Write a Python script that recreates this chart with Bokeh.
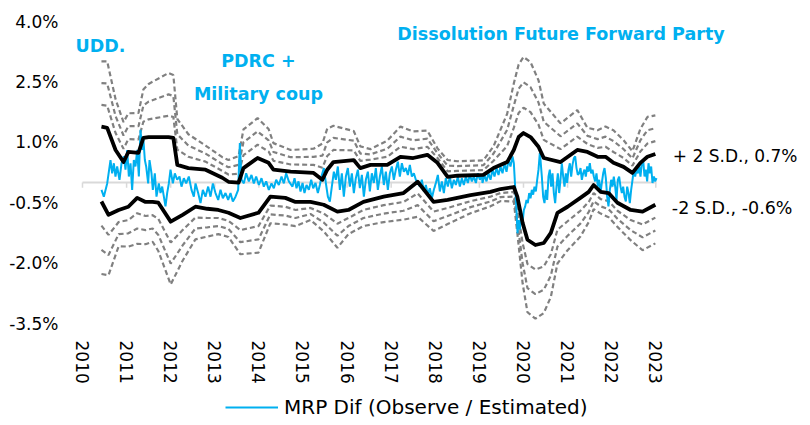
import numpy as np
from bokeh.plotting import figure
from bokeh.models import (Range1d, FixedTicker, PrintfTickFormatter, Label, Legend, LegendItem,
                          LinearAxis)
from bokeh.embed import file_html
from bokeh.resources import INLINE

FONT = "DejaVu Sans"
BLUE = "#00B0F0"
GREY = "#808080"

year_ticks = [2010, 2011, 2012, 2013, 2014, 2015, 2016, 2017, 2018, 2019, 2020, 2021, 2022, 2023]
pct_ticks = [-3.5, -2.0, -0.5, 1.0, 2.5, 4.0]

# MRP Dif (Observe / Estimated), % -- date as decimal year
mrp_t = [
    2010.431, 2010.484, 2010.560, 2010.635, 2010.673, 2010.711, 2010.748, 2010.786, 2010.839, 2010.885,
    2010.937, 2010.975, 2011.013, 2011.051, 2011.089, 2011.126, 2011.164, 2011.202, 2011.240, 2011.278,
    2011.315, 2011.353, 2011.376, 2011.414, 2011.444, 2011.489, 2011.520, 2011.565, 2011.595, 2011.640,
    2011.678, 2011.731, 2011.769, 2011.807, 2011.845, 2011.882, 2011.920, 2011.958, 2011.996, 2012.049,
    2012.094, 2012.147, 2012.200, 2012.245, 2012.298, 2012.351, 2012.411, 2012.472, 2012.525, 2012.563,
    2012.623, 2012.676, 2012.729, 2012.789, 2012.850, 2012.903, 2012.956, 2013.016, 2013.077, 2013.130,
    2013.183, 2013.243, 2013.303, 2013.356, 2013.409, 2013.470, 2013.530, 2013.568, 2013.606, 2013.659,
    2013.711, 2013.772, 2013.832, 2013.885, 2013.938, 2013.999, 2014.059, 2014.112, 2014.165, 2014.225,
    2014.286, 2014.339, 2014.392, 2014.452, 2014.513, 2014.566, 2014.618, 2014.679,
    2014.762, 2014.808, 2014.853, 2014.898, 2014.944, 2014.989, 2015.034, 2015.080, 2015.133, 2015.186,
    2015.231, 2015.284, 2015.337, 2015.382, 2015.428, 2015.473, 2015.518, 2015.564, 2015.609, 2015.654,
    2015.700, 2015.745, 2015.790, 2015.836, 2015.881, 2015.926, 2015.972, 2016.017, 2016.062, 2016.108,
    2016.153, 2016.198, 2016.244, 2016.289, 2016.335, 2016.380, 2016.425, 2016.471, 2016.516, 2016.561,
    2016.607, 2016.652, 2016.697, 2016.743, 2016.788, 2016.833, 2016.879, 2016.924, 2016.969, 2017.015,
    2017.060, 2017.105, 2017.151, 2017.196, 2017.242, 2017.287, 2017.332, 2017.378, 2017.423, 2017.468,
    2017.514, 2017.559, 2017.604, 2017.650, 2017.695, 2017.740, 2017.786, 2017.831, 2017.876, 2017.922,
    2017.967, 2018.013, 2018.058, 2018.103, 2018.149, 2018.194, 2018.239, 2018.285, 2018.330, 2018.375,
    2018.421, 2018.466, 2018.511, 2018.557, 2018.602, 2018.647, 2018.693, 2018.738, 2018.784, 2018.829,
    2018.874, 2018.920, 2018.965, 2019.010, 2019.056,
    2019.070, 2019.116, 2019.161, 2019.206, 2019.252, 2019.297, 2019.342, 2019.388, 2019.433, 2019.479,
    2019.524, 2019.569, 2019.615, 2019.660, 2019.705, 2019.751, 2019.781, 2019.811, 2019.841, 2019.864,
    2019.887, 2019.917, 2019.947, 2019.977, 2020.008, 2020.038, 2020.068, 2020.098, 2020.129, 2020.159,
    2020.189, 2020.219, 2020.249, 2020.280, 2020.310, 2020.340, 2020.370, 2020.386, 2020.416, 2020.446,
    2020.476, 2020.506, 2020.537, 2020.567, 2020.597, 2020.627, 2020.658, 2020.688, 2020.718, 2020.748,
    2020.779, 2020.809, 2020.839, 2020.869, 2020.900, 2020.930, 2020.960, 2020.990, 2021.020, 2021.051,
    2021.081, 2021.111, 2021.141, 2021.172, 2021.202, 2021.232, 2021.262, 2021.293, 2021.323, 2021.353,
    2021.383, 2021.413, 2021.444, 2021.474, 2021.504, 2021.534, 2021.565, 2021.595, 2021.625, 2021.655,
    2021.686, 2021.716, 2021.746, 2021.776, 2021.807, 2021.837, 2021.867, 2021.897, 2021.927, 2021.958,
    2021.988, 2022.018, 2022.048, 2022.079, 2022.109, 2022.139, 2022.169, 2022.200, 2022.230, 2022.260,
    2022.290, 2022.321, 2022.351, 2022.381, 2022.411, 2022.441, 2022.472, 2022.502, 2022.532, 2022.562,
    2022.593, 2022.623, 2022.653, 2022.683, 2022.714, 2022.744, 2022.774, 2022.804, 2022.835, 2022.865,
    2022.895, 2022.925, 2022.956, 2022.986, 2023.016,
]
mrp_v = [
    -0.18, -0.35, -0.02, 0.56, 0.23, 0.48, 0.15, 0.40, 0.07, 0.48,
    0.65, 0.32, 0.81, 0.15, 0.48, -0.18, 0.56, 0.40, 0.81, 0.15,
    1.31, 0.81, 1.14, 0.56, 0.40, -0.02, 0.56, 0.23, -0.18, 0.23,
    -0.35, -0.02, -0.26, -0.10, -0.35, -0.59, -0.26, -0.02, 0.32, -0.02,
    0.23, 0.07, 0.15, -0.10, 0.11, -0.02, 0.15, -0.18, -0.35, -0.02,
    -0.26, -0.51, -0.18, -0.35, -0.10, -0.35, -0.02, -0.26, -0.43, -0.18,
    -0.39, -0.26, -0.43, -0.26, -0.47, -0.35, -0.18, 0.98, 0.07, -0.02,
    0.23, 0.03, 0.19, -0.02, 0.15, -0.06, 0.11, -0.10, 0.03, -0.18,
    -0.02, -0.14, 0.07, -0.06, 0.15, -0.02, 0.23, 0.03,
    -0.10, 0.11, -0.14, 0.03, -0.22, -0.01, -0.26, -0.06, -0.18, 0.07,
    -0.14, -0.01, -0.26, -0.06, 0.19, 0.36, -0.01, -0.35, -0.47, -0.10,
    0.27, 0.07, 0.40, -0.18, 0.23, -0.35, 0.15, 0.36, -0.10, 0.23,
    -0.26, 0.11, 0.32, -0.14, 0.19, -0.35, 0.07, 0.27, -0.22, 0.23,
    -0.01, 0.36, -0.18, 0.15, 0.40, -0.06, 0.27, -0.18, 0.23, 0.40,
    0.07, 0.32, 0.52, 0.15, 0.48, 0.27, 0.36, 0.19, 0.44, 0.15,
    0.23, 0.07, -0.01, -0.10, 0.07, -0.22, -0.06, -0.30, -0.14, -0.39,
    -0.18, -0.01, 0.19, -0.22, 0.03, -0.26, 0.11, -0.10, 0.15, -0.14,
    0.07, -0.06, 0.15, -0.10, 0.11, -0.06, 0.15, -0.01, 0.19, 0.03,
    0.15, -0.01, 0.23, 0.07, 0.19,
    -0.01, 0.19, 0.03, 0.23, 0.07, 0.32, 0.15, 0.36, 0.19, 0.40,
    0.23, 0.48, 0.27, 0.56, 0.40, 0.65, 0.48, -0.10, -0.68, -1.26,
    -0.93, -1.17, -0.76, -1.01, -0.68, -0.59, -0.43, -0.51, -0.26, -0.39,
    -0.18, -0.30, -0.10, -0.22, 0.07, 0.32, 0.73, 0.56, 0.15, -0.35,
    -0.51, -0.18, -0.43, 0.15, 0.32, -0.10, 0.23, -0.26, -0.51, -0.10,
    0.23, -0.26, 0.07, 0.48, 0.15, -0.10, 0.23, -0.01, 0.32, 0.48,
    0.15, 0.44, 0.60, 0.65, 0.36, 0.19, 0.23, 0.36, 0.07, 0.23,
    0.32, 0.15, 0.40, 0.27, 0.48, 0.23, 0.32, 0.15, 0.03, 0.23,
    -0.10, 0.07, -0.26, -0.01, 0.23, 0.36, 0.11, -0.35, -0.59, -0.18,
    0.07, -0.10, 0.15, -0.10, -0.43, 0.07, 0.15, -0.10, -0.26, -0.10,
    -0.35, -0.47, -0.10, -0.26, -0.51, -0.18, 0.07, 0.32, 0.15, 0.32,
    0.23, 0.40, 0.15, 0.48, 0.56, 0.15, 0.32, 0.03, 0.48, 0.23,
    0.40, -0.01, 0.15, 0.03, 0.11,
]

# +2 S.D. band (solid black) and spacing of the further S.D. bands (grey dashed)
upper_t = [2010.43, 2010.56, 2010.75, 2010.93, 2011.04, 2011.27, 2011.38, 2011.50, 2011.95, 2012.06,
           2012.15, 2012.40, 2012.79, 2013.17, 2013.31, 2013.54, 2013.65, 2013.97, 2014.22, 2014.33,
           2014.72, 2015.24, 2015.44, 2015.55, 2015.69, 2016.15, 2016.30, 2016.53, 2016.91, 2017.21,
           2017.50, 2017.82, 2018.05, 2018.28, 2018.50, 2019.09, 2019.32, 2019.63, 2019.78, 2019.89,
           2020.00, 2020.16, 2020.34, 2020.46, 2020.84, 2021.22, 2021.45, 2021.68, 2021.86, 2022.04,
           2022.27, 2022.47, 2022.65, 2022.81, 2022.99]
upper_v = [1.39, 1.36, 0.81, 0.51, 0.76, 0.74, 1.11, 1.13, 1.13, 1.11,
           0.44, 0.36, 0.32, 0.12, 0.02, 0.00, 0.36, 0.61, 0.49, 0.32,
           0.27, 0.24, 0.07, 0.32, 0.51, 0.56, 0.36, 0.44, 0.44, 0.64,
           0.61, 0.69, 0.49, 0.14, 0.17, 0.19, 0.36, 0.51, 0.81, 1.13,
           1.23, 1.13, 0.89, 0.61, 0.51, 0.81, 0.76, 0.64, 0.64, 0.49,
           0.39, 0.24, 0.49, 0.64, 0.71]
upper_step = [0.54, 0.55, 0.42, 0.33, 0.32, 0.33, 0.40, 0.44, 0.53, 0.52,
              0.38, 0.28, 0.20, 0.17, 0.18, 0.22, 0.32, 0.33, 0.28, 0.22,
              0.18, 0.20, 0.30, 0.34, 0.30, 0.24, 0.18, 0.13, 0.20, 0.25,
              0.22, 0.20, 0.12, 0.14, 0.12, 0.12, 0.18, 0.40, 0.55, 0.60,
              0.63, 0.62, 0.55, 0.45, 0.32, 0.33, 0.20, 0.22, 0.25, 0.27,
              0.22, 0.18, 0.28, 0.33, 0.32]

# -2 S.D. band (solid black) and spacing of the further S.D. bands (grey dashed)
lower_t = [2010.43, 2010.59, 2010.82, 2011.04, 2011.24, 2011.43, 2011.59, 2011.72, 2012.00, 2012.27,
           2012.56, 2012.83, 2013.08, 2013.31, 2013.58, 2013.99, 2014.26, 2014.60, 2014.83, 2015.17,
           2015.47, 2015.78, 2016.03, 2016.37, 2016.83, 2017.28, 2017.60, 2017.96, 2018.28, 2018.80,
           2019.25, 2019.48, 2019.78, 2019.86, 2019.98, 2020.09, 2020.27, 2020.46, 2020.62, 2020.77,
           2021.00, 2021.29, 2021.48, 2021.59, 2021.75, 2021.93, 2022.13, 2022.43, 2022.70, 2022.99]
lower_v = [-0.47, -0.80, -0.68, -0.60, -0.38, -0.48, -0.48, -0.50, -0.97, -0.80,
           -0.60, -0.65, -0.68, -0.75, -0.88, -0.75, -0.35, -0.38, -0.48, -0.48,
           -0.55, -0.72, -0.68, -0.48, -0.35, -0.26, 0.02, -0.48, -0.43, -0.31,
           -0.23, -0.16, -0.11, -0.35, -1.00, -1.42, -1.55, -1.50, -1.25, -0.75,
           -0.60, -0.38, -0.23, -0.06, -0.23, -0.26, -0.50, -0.68, -0.72, -0.55]
lower_step = [0.60, 0.50, 0.30, 0.33, 0.38, 0.35, 0.33, 0.40, 0.52, 0.38,
              0.27, 0.23, 0.20, 0.20, 0.30, 0.33, 0.22, 0.22, 0.20, 0.15,
              0.22, 0.30, 0.20, 0.20, 0.21, 0.22, 0.29, 0.24, 0.20, 0.15,
              0.12, 0.10, 0.12, 0.30, 0.50, 0.60, 0.61, 0.58, 0.53, 0.42,
              0.36, 0.32, 0.25, 0.20, 0.18, 0.20, 0.20, 0.25, 0.32, 0.32]

event_text = ["UDD.", "PDRC +", "Military coup", "Dissolution Future Forward Party"]
band_text = ["+ 2 S.D., 0.7%", "-2 S.D., -0.6%"]
legend_text = "MRP Dif (Observe / Estimated)"

# frame runs to the bottom of the page so the legend can sit inside it;
# the date axis is pinned at the lowest percent tick
p = figure(frame_width=746, frame_height=404, x_axis_location=None,
           min_border_left=64, min_border_right=0, min_border_top=21, min_border_bottom=0,
           x_range=Range1d(2009.592, 2026.508), y_range=Range1d(-6.032, 4.0),
           output_backend="svg", toolbar_location=None)
p.outline_line_color = None
p.grid.visible = False

# further S.D. bands (dashed grey)
ua, us = np.array(upper_v), np.array(upper_step)
la, ls = np.array(lower_v), np.array(lower_step)
for k in (1, 2, 3):
    p.line(upper_t, ua + k * us, line_color=GREY, line_width=2.2, line_dash="5 3")
    p.line(lower_t, la - k * ls, line_color=GREY, line_width=2.2, line_dash="5 3")

# zero axis line with year ticks
p.segment(x0=year_ticks[0], x1=mrp_t[-1], y0=0, y1=0, line_color="#D9D9D9", line_width=2)
p.segment(x0=year_ticks, x1=year_ticks, y0=[0] * len(year_ticks), y1=[-0.13] * len(year_ticks),
          line_color="#D9D9D9", line_width=1.5)

blue = p.line(mrp_t, mrp_v, line_color=BLUE, line_width=2)
p.line(upper_t, upper_v, line_color="black", line_width=3.8, line_join="round")
p.line(lower_t, lower_v, line_color="black", line_width=3.8, line_join="round")

# axes
xaxis = LinearAxis(fixed_location=pct_ticks[0], ticker=FixedTicker(ticks=year_ticks),
                   formatter=PrintfTickFormatter(format="%d"))
p.add_layout(xaxis, "below")
xaxis.major_label_orientation = "vertical"
p.yaxis.ticker = FixedTicker(ticks=pct_ticks)
p.yaxis.formatter = PrintfTickFormatter(format="%.1f%%")
for ax in (xaxis, p.yaxis[0]):
    ax.axis_line_color = None
    ax.major_tick_line_color = None
    ax.minor_tick_line_color = None
    ax.major_tick_out = 0
    ax.major_tick_in = 0
    ax.major_label_text_font = FONT
    ax.major_label_text_font_size = "17px"
    ax.major_label_text_color = "black"
p.yaxis.major_label_standoff = 6
xaxis.major_label_standoff = 17

# event annotations
ev_pos = [(2009.84, 3.40, "left"), (2013.99, 3.01, "center"), (2013.99, 2.19, "center"), (2020.85, 3.69, "center")]
for txt, (x, y, al) in zip(event_text, ev_pos):
    p.add_layout(Label(x=x, y=y, text=txt, text_font=FONT, text_font_size="17.5px",
                       text_font_style="bold", text_color=BLUE, text_align=al, text_baseline="middle"))

# band end labels
p.add_layout(Label(x=upper_t[-1], y=upper_v[-1], x_offset=17.5, y_offset=-2.5, text=band_text[0],
                   text_font=FONT, text_font_size="17px", text_color="black",
                   text_align="left", text_baseline="middle"))
p.add_layout(Label(x=lower_t[-1], y=lower_v[-1], x_offset=16.5, y_offset=-3, text=band_text[1],
                   text_font=FONT, text_font_size="17.5px", text_color="black",
                   text_align="left", text_baseline="middle"))

legend = Legend(items=[LegendItem(label=legend_text, renderers=[blue])],
                location=(161, 6), orientation="horizontal", padding=0, margin=0,
                border_line_color=None, background_fill_alpha=0,
                glyph_width=53, glyph_height=18, label_height=18, label_standoff=6,
                label_text_font=FONT, label_text_font_size="20px", label_text_color="black")
p.add_layout(legend, "center")

open("out.html", "w").write(file_html(p, INLINE))
